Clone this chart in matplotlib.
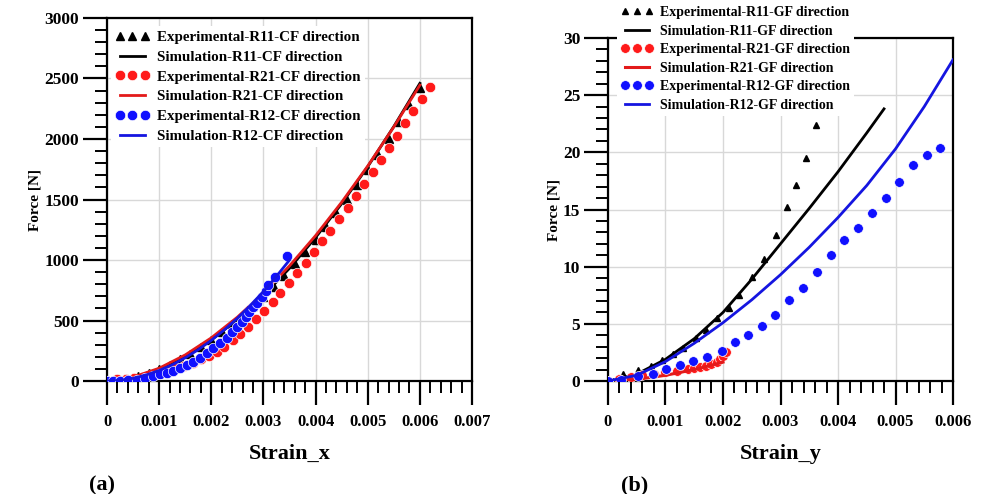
import numpy as np
import matplotlib
matplotlib.use("Agg")
from matplotlib import pyplot as plt
from matplotlib.ticker import MultipleLocator, FormatStrFormatter

plt.rcParams['font.family'] = ['Liberation Serif', 'DejaVu Serif']
plt.rcParams['font.weight'] = 'bold'

# ---------------- (a) CF direction ----------------
a_r11_exp_x = [0, 0.0002, 0.0004, 0.0006, 0.0008, 0.001, 0.0012, 0.0014, 0.0016, 0.0018,
               0.002, 0.0022, 0.0024, 0.0026, 0.0028, 0.003, 0.0032, 0.0034, 0.0036, 0.0038,
               0.004, 0.0042, 0.0044, 0.0046, 0.0048, 0.005, 0.0052, 0.0054, 0.0056, 0.0058, 0.006]
a_r11_exp_f = [0, 8, 20, 40, 66, 98, 136, 178, 226, 280,
               340, 402, 468, 540, 616, 696, 781, 871, 965, 1064,
               1166, 1273, 1385, 1500, 1619, 1743, 1870, 2002, 2137, 2277, 2420]

a_r11_sim_x = [0, 0.0005, 0.001, 0.0015, 0.002, 0.0025, 0.003, 0.0035, 0.004, 0.0045, 0.005, 0.0055, 0.006]
a_r11_sim_f = [0, 28, 98, 203, 340, 509, 707, 932, 1186, 1466, 1772, 2103, 2460]

a_r21_exp_x = [0, 0.0002, 0.00036, 0.00052, 0.00068, 0.00084, 0.001, 0.00116, 0.00132, 0.00148,
               0.00164, 0.0018, 0.00196, 0.0021, 0.00224, 0.00242, 0.00255, 0.0027, 0.00286, 0.00301,
               0.00318, 0.00332, 0.00349, 0.00364, 0.00382, 0.00397, 0.00412, 0.00428, 0.00445, 0.00462,
               0.00478, 0.00493, 0.0051, 0.00525, 0.00541, 0.00556, 0.00571, 0.00587, 0.00604, 0.0062]
a_r21_exp_f = [0, 15, 20, 27, 35, 48, 65, 85, 105, 128,
               152, 180, 210, 240, 281, 339, 388, 446, 512, 578,
               653, 727, 809, 892, 975, 1066, 1156, 1239, 1338, 1430,
               1528, 1627, 1726, 1825, 1925, 2024, 2130, 2230, 2330, 2430]

a_r21_sim_x = [0, 0.0005, 0.001, 0.0015, 0.002, 0.0025, 0.003, 0.0035, 0.004, 0.0045, 0.005, 0.0055, 0.006]
a_r21_sim_f = [0, 32, 106, 216, 357, 528, 727, 952, 1202, 1478, 1777, 2100, 2445]

a_r12_exp_x = [0, 0.00012, 0.00025, 0.0004, 0.00057, 0.00073, 0.00088, 0.00102, 0.00115, 0.00127,
               0.0014, 0.00153, 0.00165, 0.00178, 0.00192, 0.00203, 0.00217, 0.0023, 0.0024, 0.00249,
               0.00259, 0.00267, 0.00273, 0.0028, 0.00288, 0.00297, 0.00305, 0.00309, 0.00322, 0.00345]
a_r12_exp_f = [0, 2, 4, 8, 12, 25, 45, 58, 70, 85,
               107, 132, 157, 190, 231, 273, 314, 355, 405, 446,
               487, 529, 570, 611, 644, 694, 743, 793, 859, 1030]

a_r12_sim_x = [0, 0.00025, 0.0005, 0.00075, 0.001, 0.00125, 0.0015, 0.00175, 0.002, 0.00225,
               0.0025, 0.00275, 0.003, 0.00325, 0.0035]
a_r12_sim_f = [0, 6, 22, 50, 87, 134, 192, 259, 336, 423, 519, 625, 740, 866, 1000]

# ---------------- (b) GF direction ----------------
b_r11_exp_x = [0, 0.00026, 0.00052, 0.00075, 0.00094, 0.00113, 0.0013, 0.00153, 0.0017, 0.0019,
               0.0021, 0.00228, 0.0025, 0.00271, 0.00292, 0.00311, 0.00327, 0.00344, 0.00362]
b_r11_exp_f = [0, 0.6, 0.95, 1.3, 1.8, 2.4, 2.9, 3.8, 4.5, 5.5,
               6.4, 7.5, 9.1, 10.7, 12.8, 15.2, 17.1, 19.5, 22.4]

b_r11_sim_x = [0, 0.0005, 0.001, 0.0015, 0.002, 0.0025, 0.003, 0.0035, 0.004, 0.0045, 0.0048]
b_r11_sim_f = [0, 0.6, 1.9, 3.7, 6.0, 8.9, 12.0, 15.1, 18.3, 21.7, 23.8]

b_r21_exp_x = [0, 0.0002, 0.0004, 0.0006, 0.0008, 0.001, 0.0012, 0.0014, 0.0015, 0.0016,
               0.0017, 0.0018, 0.0019, 0.00195, 0.002, 0.00205]
b_r21_exp_f = [0, 0.15, 0.35, 0.5, 0.65, 0.75, 0.85, 1.05, 1.15, 1.25,
               1.35, 1.5, 1.7, 1.9, 2.2, 2.5]

b_r21_sim_x = [0, 0.0005, 0.001, 0.0015, 0.002]
b_r21_sim_f = [0, 0.15, 0.5, 1.0, 1.65]

b_r12_exp_x = [0, 0.00022, 0.00052, 0.00078, 0.00101, 0.00125, 0.00148, 0.00172, 0.00198, 0.00221,
               0.00243, 0.00268, 0.0029, 0.00315, 0.00339, 0.00363, 0.00388, 0.0041, 0.00435, 0.00459,
               0.00483, 0.00506, 0.0053, 0.00555, 0.00577]
b_r12_exp_f = [0, 0.1, 0.45, 0.6, 1.05, 1.4, 1.75, 2.1, 2.6, 3.4,
               4.0, 4.8, 5.8, 7.1, 8.1, 9.5, 11.0, 12.3, 13.4, 14.7,
               16.0, 17.4, 18.9, 19.8, 20.4]

b_r12_sim_x = [0, 0.0005, 0.001, 0.0015, 0.002, 0.0025, 0.003, 0.0035, 0.004, 0.0045, 0.005, 0.0055, 0.006]
b_r12_sim_f = [0, 0.5, 1.7, 3.3, 5.1, 7.1, 9.3, 11.7, 14.3, 17.1, 20.3, 24.0, 28.1]

fig = plt.figure(figsize=(9.83, 4.94), dpi=100)
axa = fig.add_axes([0.1089, 0.2287, 0.3713, 0.7349])
axb = fig.add_axes([0.6185, 0.2287, 0.3510, 0.6944])


def style(ax, xmax, ymax, ymaj, ymin):
    ax.set_xlim(0, xmax)
    ax.set_ylim(0, ymax)
    ax.xaxis.set_major_locator(MultipleLocator(0.001))
    ax.xaxis.set_minor_locator(MultipleLocator(0.0002))
    ax.yaxis.set_major_locator(MultipleLocator(ymaj))
    ax.yaxis.set_minor_locator(MultipleLocator(ymin))
    ax.xaxis.set_major_formatter(FormatStrFormatter('%g'))
    ax.grid(True, which='major', color='#d8d8d8', lw=1.0, zorder=0)
    ax.set_axisbelow(True)
    for s in ax.spines.values():
        s.set_linewidth(1.6)
    ax.tick_params(which='major', direction='out', length=17, width=1.6, labelsize=12.5)
    ax.tick_params(which='minor', direction='out', length=8.5, width=1.4)
    ax.tick_params(axis='x', which='major', pad=7, labelsize=12)
    ax.tick_params(axis='y', which='major', pad=3)
    ax.set_ylabel('Force [N]', fontsize=11, fontweight='bold', labelpad=2)


msize_dot = 7.5
axa.plot(a_r11_exp_x, a_r11_exp_f, ls='none', marker='^', ms=5.5, color='black',
         label='Experimental-R11-CF direction', zorder=3)
axa.plot(a_r11_sim_x, a_r11_sim_f, color='black', lw=2,
         label='Simulation-R11-CF direction', zorder=3)
axa.plot(a_r21_exp_x, a_r21_exp_f, ls='none', marker='o', ms=msize_dot, color='#ff1a1a',
         mec='white', mew=0.5, label='Experimental-R21-CF direction', zorder=4)
axa.plot(a_r21_sim_x, a_r21_sim_f, color='#e31a1a', lw=2,
         label='Simulation-R21-CF direction', zorder=4)
axa.plot(a_r12_exp_x, a_r12_exp_f, ls='none', marker='o', ms=msize_dot, color='#1010ff',
         mec='white', mew=0.5, label='Experimental-R12-CF direction', zorder=5)
axa.plot(a_r12_sim_x, a_r12_sim_f, color='#1515e0', lw=2,
         label='Simulation-R12-CF direction', zorder=5)
style(axa, 0.007, 3000, 500, 100)
axa.set_xlabel('Strain_x', fontsize=16, fontweight='bold', labelpad=10)
lga = axa.legend(loc='upper left', bbox_to_anchor=(0.01, 0.978), borderaxespad=0,
                 numpoints=3, handlelength=2.3, handletextpad=0.5, labelspacing=0.42,
                 borderpad=0.3, frameon=True, fancybox=False, framealpha=1,
                 edgecolor='none', prop={'size': 10.8, 'weight': 'bold'})
lga.set_zorder(10)

axb.plot(b_r11_exp_x, b_r11_exp_f, ls='none', marker='^', ms=5, color='black',
         label='Experimental-R11-GF direction', zorder=3)
axb.plot(b_r11_sim_x, b_r11_sim_f, color='black', lw=2,
         label='Simulation-R11-GF direction', zorder=3)
axb.plot(b_r21_exp_x, b_r21_exp_f, ls='none', marker='o', ms=7, color='#ff1a1a',
         mec='white', mew=0.5, label='Experimental-R21-GF direction', zorder=4)
axb.plot(b_r21_sim_x, b_r21_sim_f, color='#e31a1a', lw=2.2,
         label='Simulation-R21-GF direction', zorder=4)
axb.plot(b_r12_exp_x, b_r12_exp_f, ls='none', marker='o', ms=7, color='#1010ff',
         mec='white', mew=0.5, label='Experimental-R12-GF direction', zorder=5)
axb.plot(b_r12_sim_x, b_r12_sim_f, color='#1515e0', lw=2,
         label='Simulation-R12-GF direction', zorder=5)
style(axb, 0.006, 30, 5, 1)
axb.set_xlabel('Strain_y', fontsize=16, fontweight='bold', labelpad=10)
lgb = axb.legend(loc='upper left', bbox_to_anchor=(0.025, 1.105), borderaxespad=0,
                 numpoints=3, handlelength=2.3, handletextpad=0.5, labelspacing=0.4,
                 borderpad=0.3, frameon=True, fancybox=False, framealpha=1,
                 edgecolor='none', prop={'size': 10, 'weight': 'bold'})
lgb.set_zorder(10)

fig.text(0.104, 0.008, '(a)', fontsize=16, fontweight='bold', ha='center')
fig.text(0.646, 0.008, '(b)', fontsize=16, fontweight='bold', ha='center')

fig.savefig('out.png', dpi=100)
